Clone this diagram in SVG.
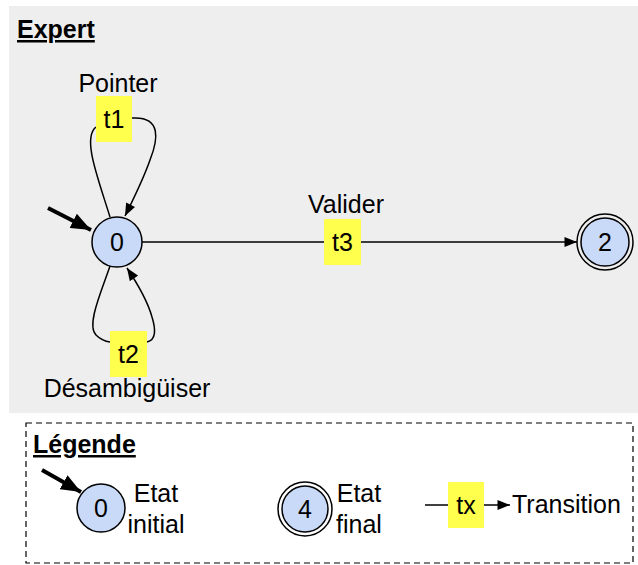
<svg xmlns="http://www.w3.org/2000/svg" width="638" height="565" viewBox="0 0 638 565">
<defs>
<style>
text{font-family:"Liberation Sans",Arial,Helvetica,sans-serif;font-size:25px;fill:#000}
.c{text-anchor:middle}
.b{font-weight:bold;text-decoration:underline}
.st{fill:#c9daf8;stroke:#000;stroke-width:1.5}
.ring{fill:none;stroke:#000;stroke-width:1.5}
.lbl{fill:#ffff4d;stroke:none}
.e{fill:none;stroke:#000;stroke-width:1.5}
.ini{fill:none;stroke:#000;stroke-width:4}
</style>
<marker id="ah" viewBox="0 0 10 8" refX="10" refY="4" markerWidth="13" markerHeight="10" markerUnits="userSpaceOnUse" orient="auto">
<path d="M0,0 L10,4 L0,8 z" fill="#000"/>
</marker>
<marker id="big" viewBox="0 0 10 8" refX="10" refY="4" markerWidth="20" markerHeight="16" markerUnits="userSpaceOnUse" orient="auto">
<path d="M0,0 L10,4 L0,8 z" fill="#000"/>
</marker>
</defs>
<rect x="9" y="6" width="629" height="407" fill="#eeeeee"/>
<text x="17" y="38" class="b">Expert</text>

<g id="connectors">
<line x1="48" y1="208" x2="91" y2="230" class="ini" marker-end="url(#big)"/>
<path d="M110 217 C98 178 82 138 96 127" class="e"/>
<path d="M132 118 C162 116 158 140 150 160 C143 180 133 200 125 216" class="e" marker-end="url(#ah)"/>
<path d="M110 266 C102 290 86 325 96 335 Q102 341 110 342" class="e"/>
<path d="M147 342 C156 340 156 330 152 317 C147 299 137 283 127 268" class="e" marker-end="url(#ah)"/>
<line x1="141" y1="242" x2="577" y2="242" class="e" marker-end="url(#ah)"/>
</g>

<g id="t1">
<rect x="96" y="96" width="36" height="46" class="lbl"/>
<text x="114" y="128" class="c">t1</text>
<text x="118" y="92" class="c">Pointer</text>
</g>
<g id="t2">
<rect x="110" y="331" width="37" height="46" class="lbl"/>
<text x="128.5" y="363" class="c">t2</text>
<text x="127" y="397" class="c">Désambigüiser</text>
</g>
<g id="t3">
<rect x="324" y="219" width="37" height="46" class="lbl"/>
<text x="342.5" y="251" class="c">t3</text>
<text x="346" y="213" class="c">Valider</text>
</g>

<g id="node0">
<circle cx="117" cy="242" r="25" class="st"/>
<text x="117" y="251" class="c">0</text>
</g>
<g id="node2">
<circle cx="605" cy="242" r="28" class="ring"/>
<circle cx="605" cy="242" r="24" class="st"/>
<text x="605" y="251" class="c">2</text>
</g>

<g id="legend">
<rect x="26" y="423" width="607" height="140" fill="#fff" stroke="#000" stroke-width="1.2" stroke-dasharray="6,4"/>
<text x="33" y="453" class="b">Légende</text>
<line x1="42" y1="470" x2="81" y2="492" class="ini" marker-end="url(#big)"/>
<circle cx="101" cy="508" r="24" class="st"/>
<text x="101" y="517" class="c">0</text>
<text x="156" y="502" class="c">Etat</text>
<text x="156" y="533" class="c">initial</text>
<circle cx="305" cy="509" r="27" class="ring"/>
<circle cx="305" cy="509" r="23" class="st"/>
<text x="305" y="518" class="c">4</text>
<text x="359" y="502" class="c">Etat</text>
<text x="359" y="533" class="c">final</text>
<line x1="425" y1="505" x2="448" y2="505" class="e"/>
<rect x="448" y="482" width="36" height="46" class="lbl"/>
<text x="466" y="514" class="c">tx</text>
<line x1="484" y1="505" x2="510" y2="505" class="e" marker-end="url(#ah)"/>
<text x="512" y="513">Transition</text>
</g>
</svg>
